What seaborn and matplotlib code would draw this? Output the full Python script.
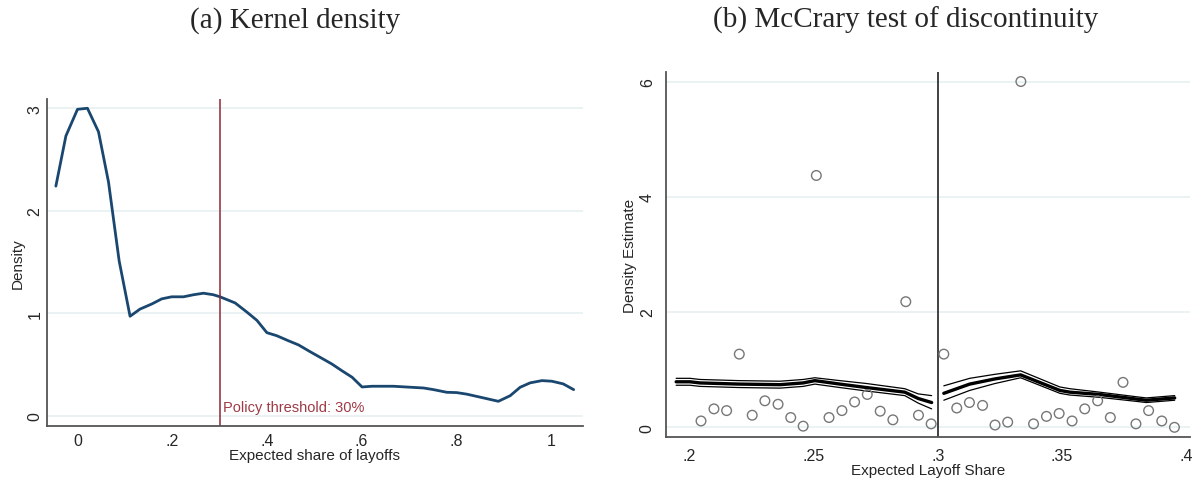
import numpy as np
import pandas as pd
import matplotlib
matplotlib.use("Agg")
import matplotlib.pyplot as plt
import seaborn as sns

# ---- Panel (a): kernel density ----
kd_x = [-0.0457, -0.0245, 0.0, 0.021, 0.0444, 0.0655, 0.088, 0.111, 0.132, 0.157,
        0.178, 0.199, 0.224, 0.245, 0.266, 0.287, 0.301, 0.333, 0.358, 0.379,
        0.400, 0.421, 0.446, 0.467, 0.491, 0.516, 0.537, 0.558, 0.580, 0.601,
        0.622, 0.667, 0.731, 0.752, 0.780, 0.801, 0.822, 0.851, 0.889, 0.914,
        0.935, 0.956, 0.981, 1.002, 1.026, 1.048]
kd_y = [2.24, 2.73, 2.99, 3.00, 2.77, 2.28, 1.51, 0.97, 1.04, 1.09,
        1.14, 1.16, 1.16, 1.18, 1.195, 1.18, 1.16, 1.10, 1.01, 0.93,
        0.81, 0.78, 0.73, 0.69, 0.625, 0.56, 0.505, 0.44, 0.375, 0.28,
        0.287, 0.287, 0.27, 0.254, 0.228, 0.225, 0.21, 0.18, 0.14, 0.195,
        0.277, 0.32, 0.342, 0.336, 0.31, 0.254]
threshold = 0.30
kd_xticks = [0, 0.2, 0.4, 0.6, 0.8, 1.0]
kd_xticklabels = ["0", ".2", ".4", ".6", ".8", "1"]
kd_yticks = [0, 1, 2, 3]

# ---- Panel (b): McCrary test ----
bin_x = [0.2047, 0.2099, 0.2150, 0.2201, 0.2253, 0.2304, 0.2357, 0.2408, 0.2458, 0.2511,
         0.2562, 0.2614, 0.2665, 0.2716, 0.2768, 0.2819, 0.2871, 0.2922, 0.2973,
         0.3024, 0.3076, 0.3127, 0.3180, 0.3230, 0.3281, 0.3334, 0.3385, 0.3437, 0.3488,
         0.3540, 0.3591, 0.3643, 0.3694, 0.3745, 0.3797, 0.3848, 0.3901, 0.3952]
bin_y = [0.11, 0.32, 0.29, 1.27, 0.21, 0.46, 0.40, 0.17, 0.02, 4.37,
         0.17, 0.29, 0.44, 0.57, 0.28, 0.13, 2.18, 0.21, 0.06,
         1.27, 0.335, 0.43, 0.38, 0.04, 0.09, 6.0, 0.06, 0.19, 0.24,
         0.11, 0.32, 0.46, 0.17, 0.78, 0.06, 0.29, 0.11, 0.0]

fitL_x = [0.1947, 0.2003, 0.2043, 0.2201, 0.2365, 0.2458, 0.2505, 0.2606, 0.2713, 0.2867, 0.2921, 0.2975]
fitL_c = [0.79, 0.79, 0.77, 0.75, 0.74, 0.77, 0.81, 0.75, 0.69, 0.61, 0.50, 0.43]
fitL_u = [0.85, 0.85, 0.83, 0.81, 0.80, 0.83, 0.86, 0.81, 0.76, 0.67, 0.58, 0.55]
fitL_l = [0.73, 0.73, 0.71, 0.69, 0.68, 0.71, 0.75, 0.69, 0.63, 0.55, 0.42, 0.32]

fitR_x = [0.3024, 0.3128, 0.3230, 0.3333, 0.3491, 0.3531, 0.3651, 0.3799, 0.3839, 0.3953]
fitR_c = [0.59, 0.75, 0.84, 0.91, 0.64, 0.61, 0.57, 0.49, 0.47, 0.51]
fitR_u = [0.72, 0.85, 0.92, 0.98, 0.70, 0.67, 0.61, 0.53, 0.51, 0.55]
fitR_l = [0.47, 0.64, 0.76, 0.86, 0.59, 0.56, 0.52, 0.45, 0.43, 0.47]

mc_xticks = [0.2, 0.25, 0.3, 0.35, 0.4]
mc_xticklabels = [".2", ".25", ".3", ".35", ".4"]
mc_yticks = [0, 2, 4, 6]

sns.set_style("white")
plt.rcParams['font.family'] = ['Liberation Sans', 'DejaVu Sans']

fig = plt.figure(figsize=(11.92, 4.81), dpi=100)
axA = fig.add_axes([0.0392, 0.1129, 0.4496, 0.6791])
axB = fig.add_axes([0.5587, 0.0900, 0.4393, 0.7576])

grid_c = "#e8f0f1"
spine_c = "#555555"

# Panel A
for v in kd_yticks:
    axA.axhline(v, color=grid_c, lw=1.2, zorder=0)
dfA = pd.DataFrame({"x": kd_x, "y": kd_y})
sns.lineplot(data=dfA, x="x", y="y", ax=axA, color="#1a476f", lw=2.0, sort=False)
axA.axvline(threshold, color="#8b2a35", lw=1.1)
axA.text(threshold + 0.007, 0.085, "Policy threshold: 30%", color="#9e3a46",
         fontsize=10.5, va="center", ha="left")
axA.set_xlim(-0.065, 1.067)
axA.set_ylim(-0.098, 3.09)
axA.set_xticks(kd_xticks)
axA.set_xticklabels(kd_xticklabels)
axA.set_yticks(kd_yticks)
axA.set_yticklabels([str(v) for v in kd_yticks], rotation=90, va="center")
axA.tick_params(axis="x", length=0, labelsize=11.5, pad=5)
axA.tick_params(axis="y", length=0, labelsize=11.5, pad=3)
axA.set_xlabel("Expected share of layoffs", fontsize=11, labelpad=0)
axA.set_ylabel("Density", fontsize=11, labelpad=2)
for s in ["top", "right"]:
    axA.spines[s].set_visible(False)
for s in ["left", "bottom"]:
    axA.spines[s].set_color(spine_c)
    axA.spines[s].set_linewidth(1.3)

# Panel B
for v in mc_yticks:
    axB.axhline(v, color=grid_c, lw=1.2, zorder=0)
dfB = pd.DataFrame({"x": bin_x, "y": bin_y})
sns.scatterplot(data=dfB, x="x", y="y", ax=axB, marker="o", s=48,
                facecolor="none", edgecolor="#777777", linewidth=1.0, zorder=3)
for xs, ys, lw in [(fitL_x, fitL_c, 2.4), (fitL_x, fitL_u, 0.9), (fitL_x, fitL_l, 0.9),
                   (fitR_x, fitR_c, 2.4), (fitR_x, fitR_u, 0.9), (fitR_x, fitR_l, 0.9)]:
    sns.lineplot(x=xs, y=ys, ax=axB, color="black", lw=lw, sort=False, zorder=2)
axB.axvline(0.3, color="#333333", lw=1.3)
axB.set_xlim(0.1906, 0.4013)
axB.set_ylim(-0.163, 6.16)
axB.set_xticks(mc_xticks)
axB.set_xticklabels(mc_xticklabels)
axB.set_yticks(mc_yticks)
axB.set_yticklabels([str(v) for v in mc_yticks], rotation=90, va="center")
axB.tick_params(axis="both", length=5, width=1, color=spine_c, labelsize=11.5, pad=3)
axB.set_xlabel("Expected Layoff Share", fontsize=11, labelpad=0)
axB.set_ylabel("Density Estimate", fontsize=11, labelpad=2)
for s in ["top", "right"]:
    axB.spines[s].set_visible(False)
for s in ["left", "bottom"]:
    axB.spines[s].set_color(spine_c)
    axB.spines[s].set_linewidth(1.3)

fig.text(0.2475, 0.957, "(a) Kernel density", family=["Liberation Serif"],
         fontsize=21, ha="center", va="center")
fig.text(0.760, 0.957, "(b) McCrary test of discontinuity", family=["Liberation Serif"],
         fontsize=21, ha="center", va="center")

fig.savefig("out.png", dpi=100)
